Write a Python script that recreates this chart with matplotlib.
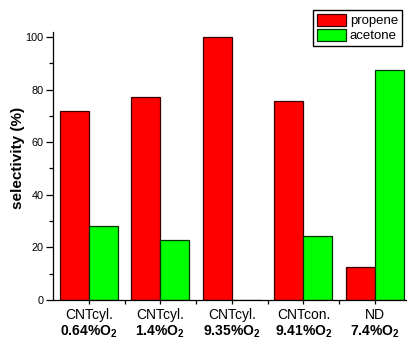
import matplotlib
matplotlib.use("Agg")
import matplotlib.pyplot as plt
from matplotlib.ticker import MultipleLocator, FixedLocator
import numpy as np

plt.rcParams['font.family'] = ['Liberation Sans', 'DejaVu Sans']
plt.rcParams['mathtext.fontset'] = 'custom'
plt.rcParams['mathtext.rm'] = 'Liberation Sans'
plt.rcParams['mathtext.bf'] = 'Liberation Sans:bold'

catalysts = ["CNTcyl.", "CNTcyl.", "CNTcyl.", "CNTcon.", "ND"]
oxygen = ["0.64%O", "1.4%O", "9.35%O", "9.41%O", "7.4%O"]
propene = [72, 77, 100, 75.5, 12.7]
acetone = [28, 23, 0, 24.4, 87.3]

W, H = 407, 342
fig = plt.figure(figsize=(W / 100, H / 100), dpi=100)
ax = fig.add_axes([53 / W, 42 / H, (410.75 - 53) / W, (300 - 31.7) / H])

x = np.arange(1, len(catalysts) + 1)
bw = 0.405
ax.bar(x - bw / 2, propene, bw, color='#FF0000', edgecolor='#3a0000', linewidth=0.9, label='propene')
ax.bar(x + bw / 2, acetone, bw, color='#00FF00', edgecolor='#003300', linewidth=0.9, label='acetone')

ax.set_xlim(0.5, 5.5)
ax.set_ylim(0, 102)

for s in ('top', 'right'):
    ax.spines[s].set_visible(False)
for s in ('left', 'bottom'):
    ax.spines[s].set_linewidth(0.9)

ax.yaxis.set_major_locator(MultipleLocator(20))
ax.yaxis.set_minor_locator(MultipleLocator(10))
ax.set_xticks(x)
ax.set_xticklabels(catalysts, fontsize=10)
ax.xaxis.set_minor_locator(FixedLocator(x[:-1] + 0.5))
ax.tick_params(axis='y', which='major', length=5, width=0.9, labelsize=7.8, pad=2)
ax.tick_params(axis='y', which='minor', length=3, width=0.9)
ax.tick_params(axis='x', which='major', length=3, width=0.9, pad=3)
ax.tick_params(axis='x', which='minor', length=3, width=0.9)

for xi, lab in zip(x, oxygen):
    ax.annotate(lab + r'$_\mathbf{2}$', xy=(xi, 0), xycoords=('data', 'axes fraction'),
                xytext=(0, -17), textcoords='offset points', ha='center', va='top',
                fontsize=10, fontweight='bold')

ax.set_ylabel('selectivity (%)', fontsize=11, fontweight='bold')
ax.yaxis.set_label_coords(-0.078, 0.53)

fig.legend(loc='upper right', bbox_to_anchor=(402 / W, 1 - 10 / H), fontsize=9.5,
           frameon=True, fancybox=False, edgecolor='black', framealpha=1,
           handlelength=2.2, handleheight=1.0, labelspacing=0.1,
           handletextpad=0.3, borderpad=0.3, borderaxespad=0)

fig.savefig('out.png', dpi=100)
